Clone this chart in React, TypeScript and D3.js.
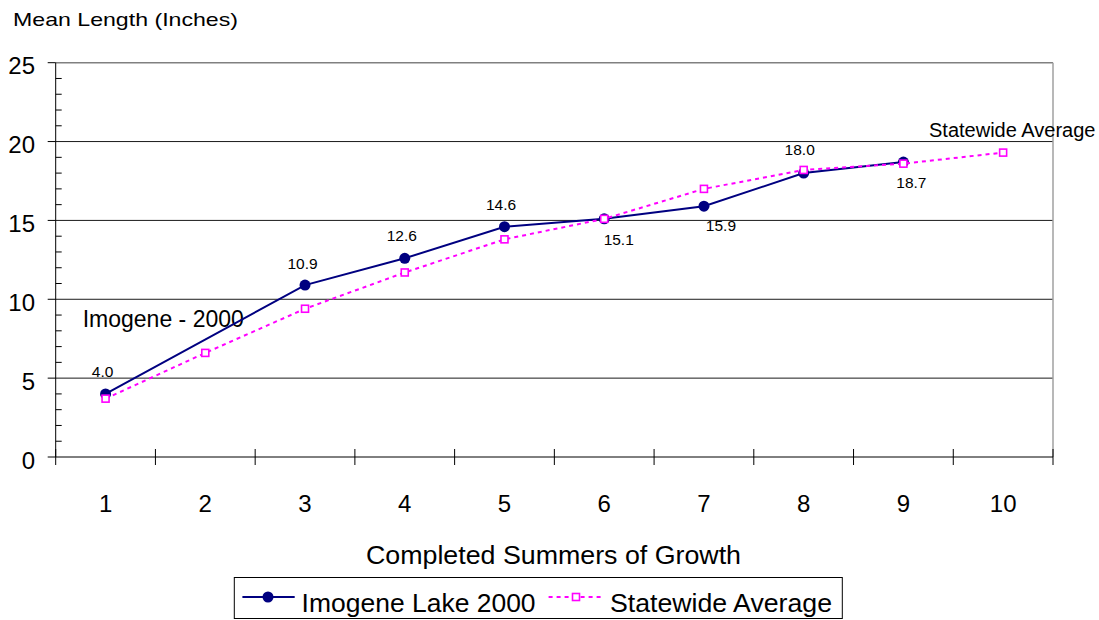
import { useEffect, useRef } from 'react';
import * as d3 from 'd3';

const summers = ['1', '2', '3', '4', '5', '6', '7', '8', '9', '10'];
const imogeneLake2000: (number | null)[] = [4.0, null, 10.9, 12.6, 14.6, 15.1, 15.9, 18.0, 18.7, null];
const statewideAverage = [3.7, 6.6, 9.4, 11.7, 13.8, 15.1, 17.0, 18.2, 18.6, 19.3];
const yTicks = [0, 5, 10, 15, 20, 25];
const yMinorTicks = d3.range(0, 26, 1);

// where each Imogene data label sits relative to its point [dx, baseline dy]
const labelOffsets: [number, number][] = [
  [-3, -16.5], [0, 0], [-2.5, -16.5], [-3, -17], [-3.5, -17],
  [14.5, 26], [17, 25], [-4, -18], [8, 26], [0, 0],
];

const NAVY = '#000080';
const MAGENTA = '#FF00FF';
const FONT = '"Liberation Sans", Arial, sans-serif';

const App = () => {
  const svgRef = useRef<SVGSVGElement>(null);

  useEffect(() => {
    if (!svgRef.current) return;
    const svg = d3.select(svgRef.current);
    svg.selectAll('*').remove();

    const width = 1099;
    const height = 620;
    const left = 55.7;
    const right = 1053;
    const top = 62.7;
    const bottom = 457;

    svg.attr('width', width).attr('height', height);

    const x = d3.scaleBand<string>().domain(summers).range([left, right]);
    const y = d3.scaleLinear().domain([0, 25]).range([bottom, top]);
    const cx = (i: number) => (x(summers[i]) ?? 0) + x.bandwidth() / 2;

    svg.append('rect').attr('width', width).attr('height', height).attr('fill', '#fff');

    // gridlines
    svg.selectAll('.grid')
      .data(yTicks.filter(t => t > 0))
      .join('line')
      .attr('x1', left).attr('x2', right)
      .attr('y1', d => y(d)).attr('y2', d => y(d))
      .attr('stroke', d => (d === 25 ? '#808080' : '#1a1a1a'))
      .attr('stroke-width', d => (d === 25 ? 1.5 : 1));

    // right border of plot area
    svg.append('line')
      .attr('x1', right).attr('x2', right).attr('y1', top).attr('y2', bottom)
      .attr('stroke', '#a0a0a0').attr('stroke-width', 1.5);

    // y axis
    svg.append('line')
      .attr('x1', left).attr('x2', left).attr('y1', top).attr('y2', bottom)
      .attr('stroke', '#000').attr('stroke-width', 1);
    svg.selectAll('.ymajor')
      .data(yTicks)
      .join('line')
      .attr('x1', left - 8).attr('x2', left)
      .attr('y1', d => y(d)).attr('y2', d => y(d))
      .attr('stroke', '#000');
    svg.selectAll('.yminor')
      .data(yMinorTicks.filter(t => t % 5 !== 0))
      .join('line')
      .attr('x1', left).attr('x2', left + 6)
      .attr('y1', d => y(d)).attr('y2', d => y(d))
      .attr('stroke', '#000');
    svg.selectAll('.ylabel')
      .data(yTicks)
      .join('text')
      .attr('x', 35)
      .attr('y', d => y(d) + 11.5)
      .attr('text-anchor', 'end')
      .attr('font-family', FONT)
      .attr('font-size', 24)
      .text(d => d);

    // x axis
    svg.append('line')
      .attr('x1', left).attr('x2', right).attr('y1', bottom).attr('y2', bottom)
      .attr('stroke', '#000');
    svg.selectAll('.xtick')
      .data(d3.range(summers.length + 1))
      .join('line')
      .attr('x1', i => left + i * x.step()).attr('x2', i => left + i * x.step())
      .attr('y1', bottom - 8).attr('y2', bottom + 8)
      .attr('stroke', '#000');
    svg.selectAll('.xlabel')
      .data(summers)
      .join('text')
      .attr('x', (_, i) => cx(i))
      .attr('y', 512)
      .attr('text-anchor', 'middle')
      .attr('font-family', FONT)
      .attr('font-size', 24)
      .text(d => d);

    // titles
    svg.append('text')
      .attr('x', 13).attr('y', 26)
      .attr('font-family', FONT).attr('font-size', 19)
      .attr('textLength', 225).attr('lengthAdjust', 'spacingAndGlyphs')
      .text('Mean Length (Inches)');
    svg.append('text')
      .attr('x', 366).attr('y', 564)
      .attr('font-family', FONT).attr('font-size', 25)
      .attr('textLength', 375).attr('lengthAdjust', 'spacingAndGlyphs')
      .text('Completed Summers of Growth');

    // annotations
    svg.append('text')
      .attr('x', 82.7).attr('y', 326.7)
      .attr('font-family', FONT).attr('font-size', 23)
      .text('Imogene - 2000');
    svg.append('text')
      .attr('x', 929).attr('y', 136.7)
      .attr('font-family', FONT).attr('font-size', 20)
      .text('Statewide Average');

    // Imogene series (line bridges the missing year)
    const imogenePts = imogeneLake2000
      .map((v, i) => ({ v, i }))
      .filter(d => d.v !== null) as { v: number; i: number }[];
    const line = d3.line<{ v: number; i: number }>()
      .x(d => cx(d.i))
      .y(d => y(d.v));
    svg.append('path')
      .attr('d', line(imogenePts) ?? '')
      .attr('fill', 'none')
      .attr('stroke', NAVY)
      .attr('stroke-width', 2);
    svg.selectAll('.imoDot')
      .data(imogenePts)
      .join('circle')
      .attr('cx', d => cx(d.i)).attr('cy', d => y(d.v))
      .attr('r', 5.5)
      .attr('fill', NAVY);
    svg.selectAll('.imoLabel')
      .data(imogenePts)
      .join('text')
      .attr('x', d => cx(d.i) + labelOffsets[d.i][0])
      .attr('y', d => y(d.v) + labelOffsets[d.i][1])
      .attr('text-anchor', 'middle')
      .attr('font-family', FONT)
      .attr('font-size', 15.5)
      .text(d => d.v.toFixed(1));

    // Statewide series
    const stateLine = d3.line<number>()
      .x((_, i) => cx(i))
      .y(d => y(d));
    svg.append('path')
      .attr('d', stateLine(statewideAverage) ?? '')
      .attr('fill', 'none')
      .attr('stroke', MAGENTA)
      .attr('stroke-width', 2)
      .attr('stroke-dasharray', '4,4');
    svg.selectAll('.stateSq')
      .data(statewideAverage)
      .join('rect')
      .attr('x', (_, i) => cx(i) - 3.5)
      .attr('y', d => y(d) - 3.5)
      .attr('width', 7).attr('height', 7)
      .attr('fill', '#fff')
      .attr('stroke', MAGENTA)
      .attr('stroke-width', 1.6);

    // legend
    const lg = svg.append('g');
    lg.append('rect')
      .attr('x', 234.3).attr('y', 577.5)
      .attr('width', 608).attr('height', 41)
      .attr('fill', '#fff')
      .attr('stroke', '#000').attr('stroke-width', 1);
    const ly = 597;
    lg.append('line')
      .attr('x1', 242.4).attr('x2', 294.7).attr('y1', ly).attr('y2', ly)
      .attr('stroke', NAVY).attr('stroke-width', 2);
    lg.append('circle').attr('cx', 268).attr('cy', ly).attr('r', 5.5).attr('fill', NAVY);
    lg.append('text')
      .attr('x', 301.6).attr('y', 611.7)
      .attr('font-family', FONT).attr('font-size', 26)
      .attr('textLength', 234).attr('lengthAdjust', 'spacingAndGlyphs')
      .text('Imogene Lake 2000');
    lg.append('line')
      .attr('x1', 548.6).attr('x2', 601.6).attr('y1', ly).attr('y2', ly)
      .attr('stroke', MAGENTA).attr('stroke-width', 2)
      .attr('stroke-dasharray', '4,4');
    lg.append('rect')
      .attr('x', 576 - 3.5).attr('y', ly - 3.5).attr('width', 7).attr('height', 7)
      .attr('fill', '#fff').attr('stroke', MAGENTA).attr('stroke-width', 1.6);
    lg.append('text')
      .attr('x', 610).attr('y', 611.7)
      .attr('font-family', FONT).attr('font-size', 26)
      .attr('textLength', 222).attr('lengthAdjust', 'spacingAndGlyphs')
      .text('Statewide Average');
  }, []);

  return (
    <svg
      ref={svgRef}
      style={{ position: 'absolute', left: 0, top: 0, display: 'block' }}
    ></svg>
  );
};

export default App;
